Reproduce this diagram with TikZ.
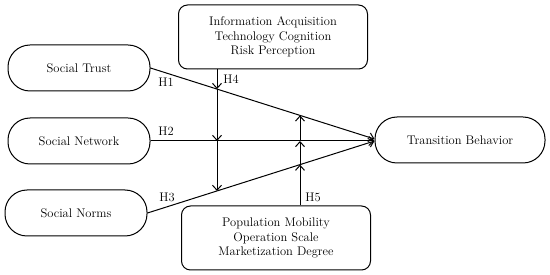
\documentclass[tikz,border=0pt]{standalone}
\usetikzlibrary{arrows.meta,positioning,intersections}

\begin{document}
\begin{tikzpicture}[x=1pt,y=-1pt,
    oval/.style={draw,line width=1pt,rounded corners=22pt,minimum width=142pt,
      minimum height=46pt,font=\fontsize{12.5}{15}\selectfont},
    modbox/.style={draw,line width=1pt,rounded corners=9pt,minimum width=189pt,
      minimum height=64pt,align=center,font=\fontsize{12.5}{14.5}\selectfont},
    arr/.style={-{Straight Barb[length=5pt,width=9pt]},line width=1pt},
    hyp/.style={font=\fontsize{12.5}{14}\selectfont,inner sep=1pt}
  ]
  \useasboundingbox (0,0) rectangle (550,275);
  % constructs
  \node[oval] (trust) at (79,68) {Social Trust};
  \node[oval] (network) at (79,141) {Social Network};
  \node[oval] (norms) at (76,213) {Social Norms};
  \node[oval,minimum width=170pt] (behav) at (460,140) {Transition Behavior};
  % moderators
  \node[modbox] (info) at (273,37) {Information Acquisition\\Technology Cognition\\Risk Perception};
  \node[modbox] (pop) at (276,238) {Population Mobility\\Operation Scale\\Marketization Degree};
  % direct paths
  \draw[arr,name path=hone] (trust.east) -- ([yshift=1pt]behav.west);
  \draw[arr,name path=htwo] (network.east) -- (network.east -| behav.west);
  \draw[arr,name path=hthree] (norms.east) -- ([yshift=-1pt]behav.west);
  % moderating paths
  \coordinate (mtop) at ([xshift=-56pt]info.south);
  \coordinate (mbot) at ([xshift=24pt]pop.north);
  \path[name path=vfour] (mtop) -- ++(0,150);
  \path[name path=vfive] (mbot) -- ++(0,-150);
  \path[name intersections={of=vfour and hone,by=p41}];
  \path[name intersections={of=vfour and htwo,by=p42}];
  \path[name intersections={of=vfour and hthree,by=p43}];
  \path[name intersections={of=vfive and hthree,by=p53}];
  \path[name intersections={of=vfive and htwo,by=p52}];
  \path[name intersections={of=vfive and hone,by=p51}];
  \draw[arr] (mtop) -- (p41);
  \draw[arr] (p41) -- (p42);
  \draw[arr] (p42) -- (p43);
  \draw[arr] (mbot) -- (p53);
  \draw[arr] (p53) -- (p52);
  \draw[arr] (p52) -- (p51);
  % labels
  \node[hyp] (lone) at (166,82) {H1};
  \node[hyp] (ltwo) at (166,131) {H2};
  \node[hyp] (lthree) at (167,197) {H3};
  \node[hyp] (lfour) at (231,79) {H4};
  \node[hyp] (lfive) at (313,197) {H5};
\end{tikzpicture}
\end{document}
